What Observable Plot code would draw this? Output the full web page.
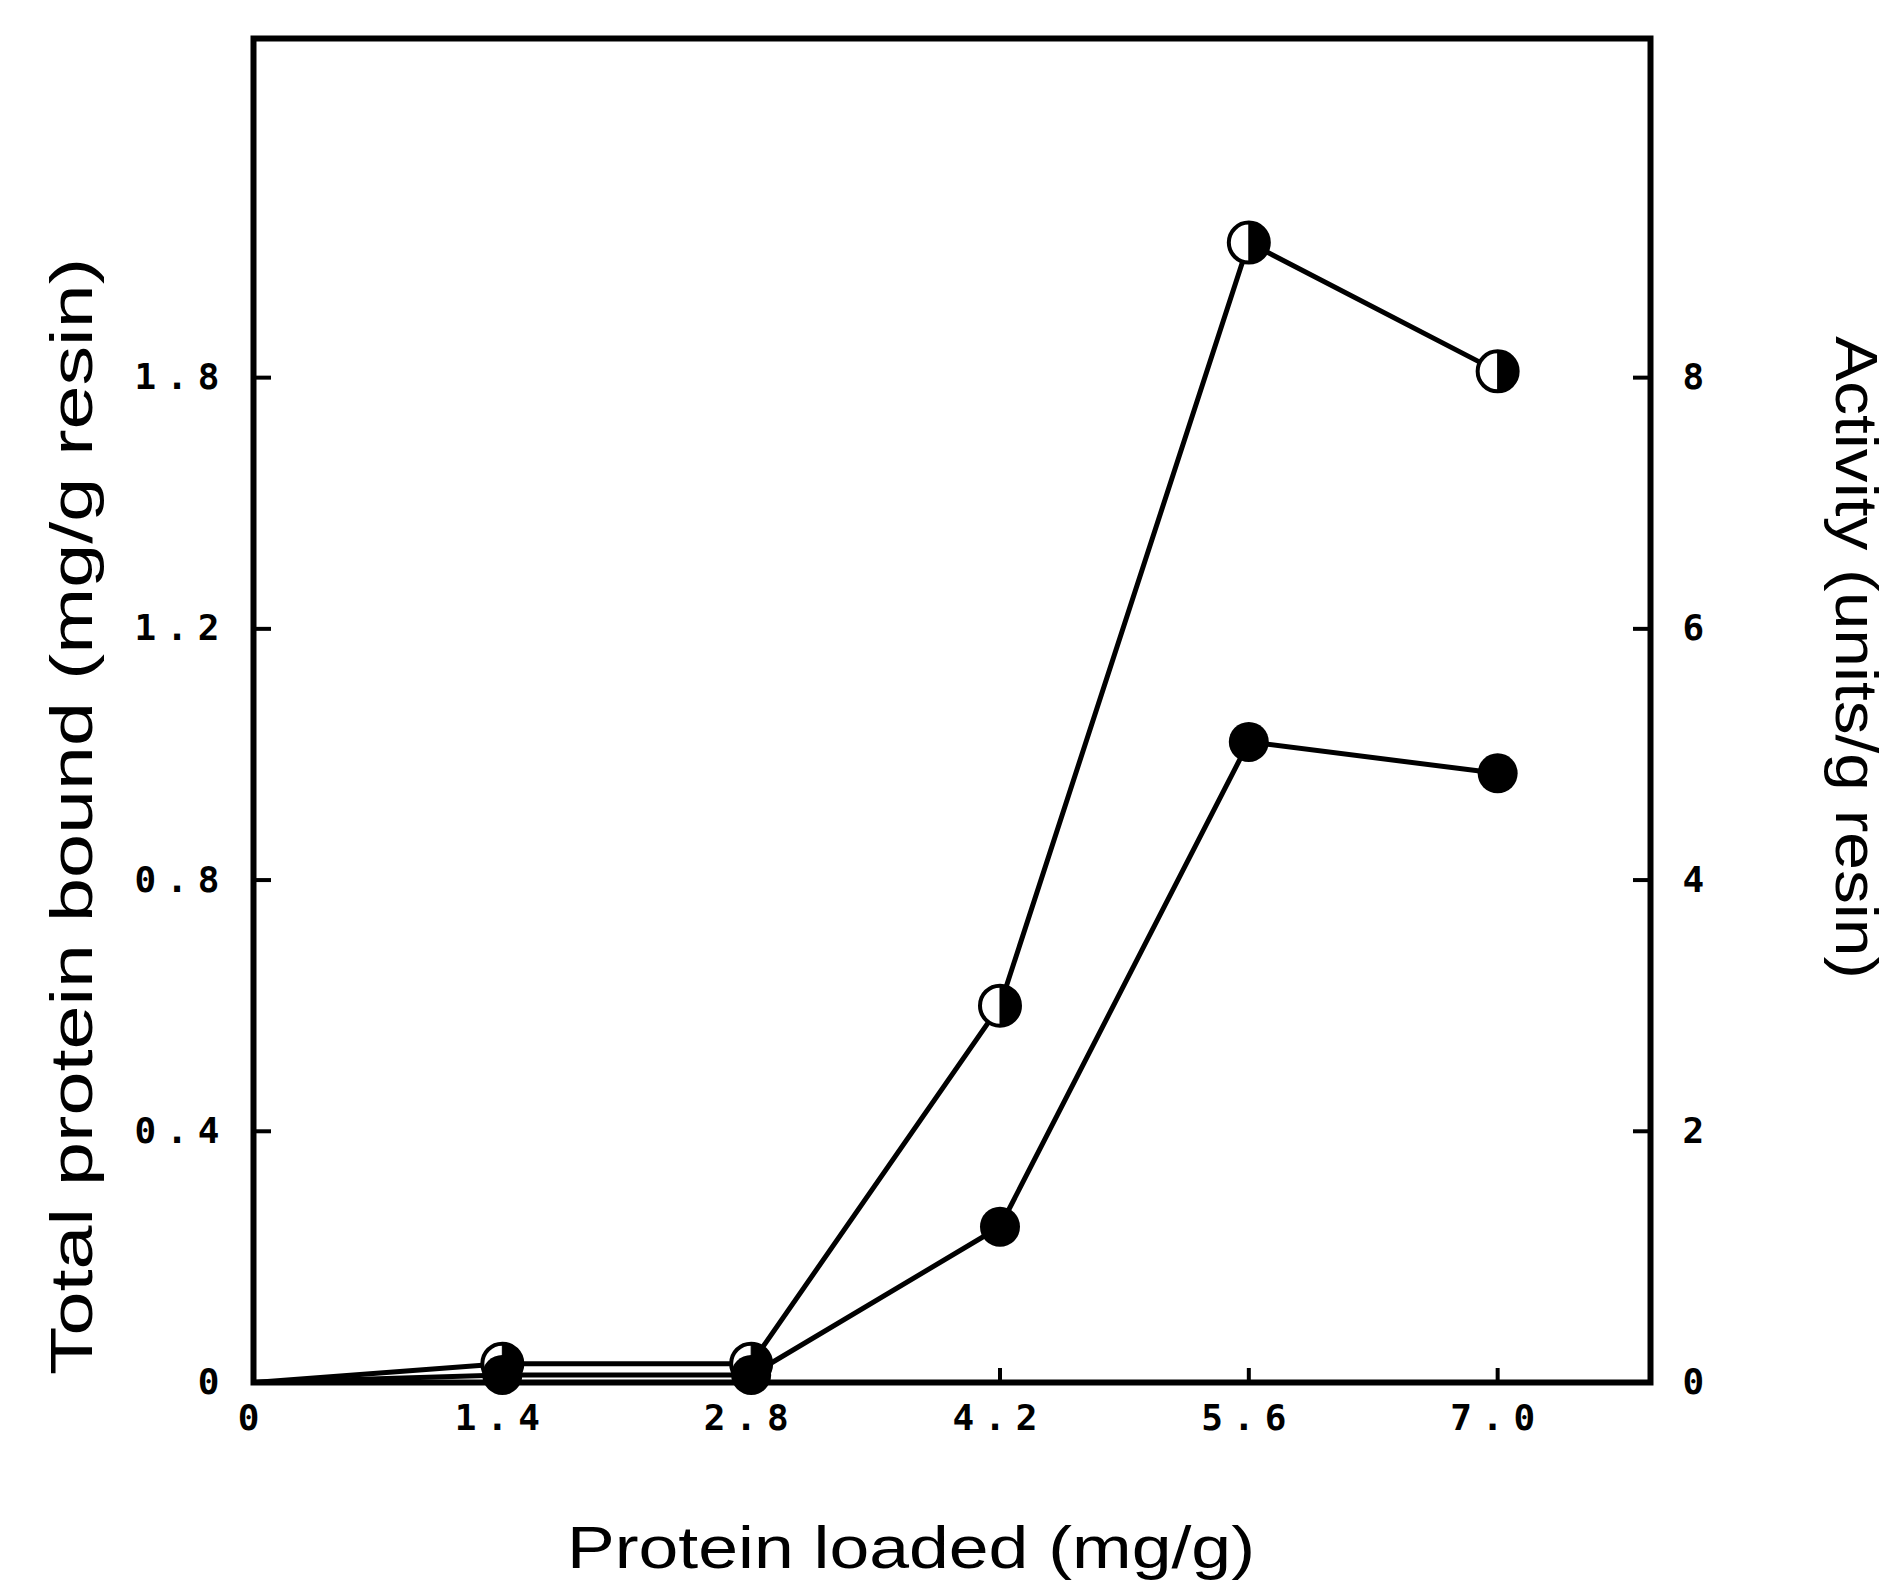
<!DOCTYPE html>
<html>
<head>
<meta charset="utf-8">
<script src="https://cdn.jsdelivr.net/npm/d3@7"></script>
<script src="https://cdn.jsdelivr.net/npm/@observablehq/plot@0.6"></script>
<style>
  html, body { margin: 0; padding: 0; background: #fff; }
</style>
</head>
<body>
<div id="chart"></div>
<script>
// Data
const loaded = [0, 1.4, 2.8, 4.2, 5.6, 7.0];                 // Protein loaded (mg/g)
const proteinBound = [0, 0.03, 0.03, 0.60, 1.815, 1.61];      // Total protein bound (mg/g resin) - half-filled circles
const activity = [0, 0.06, 0.06, 1.24, 5.1, 4.85];            // Activity (units/g resin) - filled circles

const xTicks = [0, 1.4, 2.8, 4.2, 5.6, 7.0];
const xTickLabels = ["0", "1.4", "2.8", "4.2", "5.6", "7.0"];
const yTicks = [0, 0.4, 0.8, 1.2, 1.6];
const yTickLabels = ["0", "0.4", "0.8", "1.2", "1.8"];
const rightTicks = [0, 2, 4, 6, 8];
const rightTickLabels = ["0", "2", "4", "6", "8"];

const xTitle = "Protein loaded (mg/g)";
const yTitle = "Total protein bound (mg/g resin)";
const rightTitle = "Activity (units/g resin)";

const ratio = 5; // activity units per mg/g on the right axis

const boundData = loaded.map((x, i) => ({x, y: proteinBound[i]}));
const actData = loaded.map((x, i) => ({x, y: activity[i]}));

const halfRight = {
  draw(context, size) {
    const r = Math.sqrt(size / Math.PI);
    context.moveTo(0, -r);
    context.arc(0, 0, r, -Math.PI / 2, Math.PI / 2);
    context.closePath();
  }
};

const tickFont = {fontFamily: "DejaVu Sans Mono", fontWeight: "bold", fontSize: 36};
const titleFont = {fontFamily: "Liberation Sans, Arial, sans-serif", fontSize: 60, textAnchor: "middle", lineAnchor: "middle"};

const chart = Plot.plot({
  width: 1895,
  height: 1581,
  marginLeft: 253,
  marginRight: 245,
  marginTop: 38,
  marginBottom: 199,
  style: {background: "white", color: "black"},
  x: {domain: [0, 7.86]},
  y: {domain: [0, 2.14]},
  marks: [
    Plot.line(boundData, {x: "x", y: "y", stroke: "black", strokeWidth: 5}),
    Plot.line(actData, {x: "x", y: d => d.y / ratio, stroke: "black", strokeWidth: 5}),
    Plot.dot(boundData.filter(d => d.x > 0), {x: "x", y: "y", r: 20, fill: "white", stroke: "black", strokeWidth: 4}),
    Plot.dot(boundData.filter(d => d.x > 0), {x: "x", y: "y", r: 20, symbol: halfRight, fill: "black", stroke: "black", strokeWidth: 1}),
    Plot.dot(actData.filter(d => d.x > 0), {x: "x", y: d => d.y / ratio, r: 20, fill: "black"}),
    Plot.frame({stroke: "black", strokeWidth: 6}),
    Plot.axisX({
      ticks: xTicks, tickFormat: (d) => xTickLabels[xTicks.indexOf(d)],
      tickSize: -14, tickPadding: 36, strokeWidth: 4, label: null, ...tickFont
    }),
    Plot.axisY({
      anchor: "left", ticks: yTicks, tickFormat: d => yTickLabels[yTicks.indexOf(d)],
      tickSize: -18, tickPadding: 42, strokeWidth: 4, label: null, ...tickFont
    }),
    Plot.axisY({
      anchor: "right", ticks: rightTicks.map(d => d / ratio),
      tickFormat: d => rightTickLabels[rightTicks.indexOf(Math.round(d * ratio))],
      tickSize: -18, tickPadding: 50, strokeWidth: 4, label: null, ...tickFont
    }),
    Plot.text([xTitle], {frameAnchor: "bottom", dx: -41, dy: 166, className: "ttl-x", ...titleFont}),
    Plot.text([yTitle], {frameAnchor: "left", rotate: -90, dx: -181, dy: 106, className: "ttl-y", ...titleFont}),
    Plot.text([rightTitle], {frameAnchor: "right", rotate: 90, dx: 205, dy: -53, className: "ttl-r", ...titleFont})
  ]
});

document.getElementById("chart").appendChild(chart);

// stretch titles horizontally like the scanned lettering
const lengths = {"ttl-x": 688, "ttl-y": 1117, "ttl-r": 643};
for (const [cls, len] of Object.entries(lengths)) {
  d3.select(chart).selectAll(`g.${cls} text`).attr("textLength", len).attr("lengthAdjust", "spacingAndGlyphs");
}
d3.select(chart).selectAll("g[aria-label$='tick label'] text")
  .style("letter-spacing", "10px");
</script>
</body>
</html>
